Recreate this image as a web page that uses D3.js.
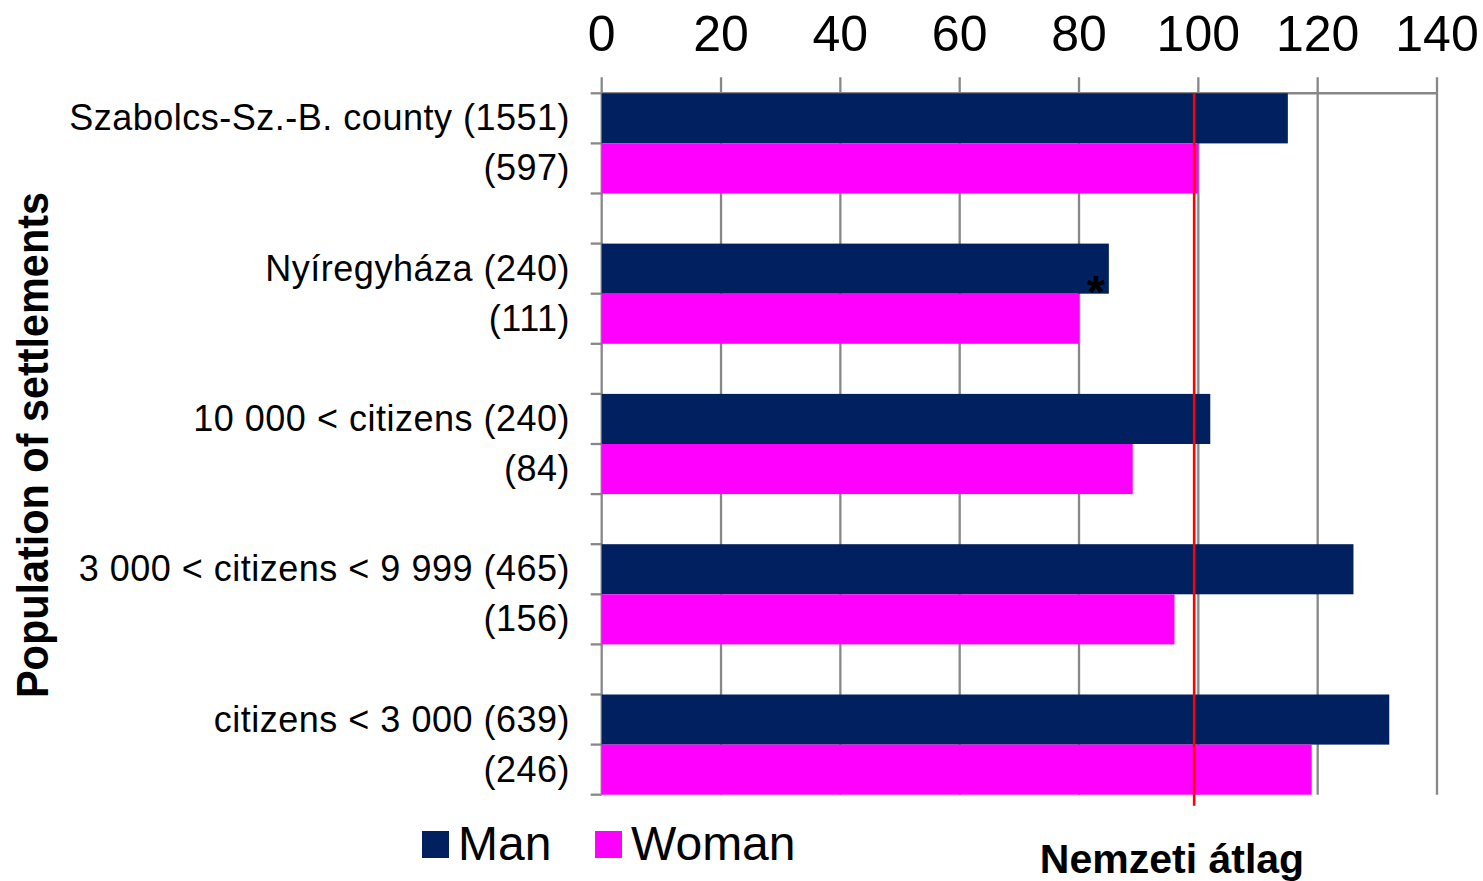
<!DOCTYPE html>
<html>
<head>
<meta charset="utf-8">
<script src="https://cdn.jsdelivr.net/npm/d3@7"></script>
<style>
  html, body { margin: 0; padding: 0; background: #ffffff; }
  svg { display: block; font-family: "Liberation Sans", Arial, Helvetica, sans-serif; }
</style>
</head>
<body>
<svg id="chart" width="1483" height="881"></svg>
<script>
// ---- data ----
const groups = ["Szabolcs-Sz.-B. county", "Nyíregyháza", "10 000 < citizens", "3 000 < citizens < 9 999", "citizens < 3 000"];
const manCounts = [1551, 240, 240, 465, 639];
const womanCounts = [597, 111, 84, 156, 246];
const manValues = [115, 85, 102, 126, 132];
const womanValues = [100, 80, 89, 96, 119];
const seriesNames = ["Man", "Woman"];
const seriesColors = ["#002060", "#FF00FF"];
const xTicks = [0, 20, 40, 60, 80, 100, 120, 140];
const nationalAverage = 99.3;
const nationalLabel = "Nemzeti átlag";
const yTitle = "Population of settlements";
const markedGroup = 1; // asterisk on Nyíregyháza (Man)

(function () {
  // ---- build rows: man, woman, gap for each group ----
  const rows = [];
  groups.forEach((g, i) => {
    rows.push({ key: "m" + i, label: g + " (" + manCounts[i] + ")", value: manValues[i], series: 0, group: i });
    rows.push({ key: "w" + i, label: "(" + womanCounts[i] + ")", value: womanValues[i], series: 1, group: i });
    if (i < groups.length - 1) rows.push({ key: "g" + i, label: "", value: null, series: null, group: i });
  });

  const svg = d3.select("#chart");
  const pLeft = 601.7, pRight = 1437, pTop = 93.3, pBottom = 794.7;

  const x = d3.scaleLinear().domain([0, 140]).range([pLeft, pRight]);
  const y = d3.scaleBand().domain(rows.map(r => r.key)).range([pTop, pBottom]).padding(0);

  const gray = "#878787";

  // gridlines + top ticks
  svg.append("g").selectAll("line")
    .data(xTicks)
    .join("line")
    .attr("x1", d => x(d)).attr("x2", d => x(d))
    .attr("y1", pTop - 16).attr("y2", pBottom)
    .attr("stroke", gray).attr("stroke-width", 2.3);

  // top axis line
  svg.append("line")
    .attr("x1", x(0)).attr("x2", x(140))
    .attr("y1", pTop).attr("y2", pTop)
    .attr("stroke", gray).attr("stroke-width", 2.5);

  // left ticks at slot boundaries
  const boundaries = rows.map(r => y(r.key)).concat([y(rows[rows.length - 1].key) + y.bandwidth()]);
  svg.append("g").selectAll("line")
    .data(boundaries)
    .join("line")
    .attr("x1", pLeft - 11).attr("x2", pLeft)
    .attr("y1", d => d).attr("y2", d => d)
    .attr("stroke", gray).attr("stroke-width", 2.3);

  // tick labels
  svg.append("g").selectAll("text")
    .data(xTicks)
    .join("text")
    .attr("x", d => x(d))
    .attr("y", 50.5)
    .attr("text-anchor", "middle")
    .attr("font-size", 50)
    .attr("fill", "#000")
    .text(d => d);

  // bars
  const barRows = rows.filter(r => r.value !== null);
  svg.append("g").selectAll("rect")
    .data(barRows)
    .join("rect")
    .attr("x", x(0))
    .attr("y", d => y(d.key))
    .attr("width", d => x(d.value) - x(0))
    .attr("height", y.bandwidth())
    .attr("fill", d => seriesColors[d.series]);

  // category labels
  svg.append("g").selectAll("text")
    .data(barRows)
    .join("text")
    .attr("x", 570)
    .attr("y", d => y(d.key) + y.bandwidth() / 2 + 12)
    .attr("text-anchor", "end")
    .attr("font-size", 36)
    .attr("letter-spacing", 0.5)
    .attr("fill", "#000")
    .text(d => d.label);

  // asterisk
  const mk = rows.find(r => r.key === "m" + markedGroup);
  svg.append("text")
    .attr("x", x(mk.value) - 13)
    .attr("y", y(mk.key) + y.bandwidth() + 14)
    .attr("text-anchor", "middle")
    .attr("font-size", 46)
    .attr("font-weight", "bold")
    .attr("fill", "#000")
    .text("*");

  // national average line
  svg.append("line")
    .attr("x1", x(nationalAverage)).attr("x2", x(nationalAverage))
    .attr("y1", pTop).attr("y2", pBottom + 11)
    .attr("stroke", "#FF0000").attr("stroke-width", 2.6);

  svg.append("text")
    .attr("x", 1172)
    .attr("y", 873)
    .attr("text-anchor", "middle")
    .attr("font-size", 41)
    .attr("font-weight", "bold")
    .attr("fill", "#000")
    .text(nationalLabel);

  // y title
  svg.append("text")
    .attr("transform", "translate(48,445) rotate(-90)")
    .attr("text-anchor", "middle")
    .attr("font-size", 44)
    .attr("font-weight", "bold")
    .attr("textLength", 506)
    .attr("lengthAdjust", "spacingAndGlyphs")
    .attr("fill", "#000")
    .text(yTitle);

  // legend
  const legendX = [422, 595];
  const legend = svg.append("g").selectAll("g")
    .data(seriesNames)
    .join("g");
  legend.append("rect")
    .attr("x", (d, i) => legendX[i]).attr("y", 831)
    .attr("width", 27).attr("height", 27)
    .attr("fill", (d, i) => seriesColors[i]);
  legend.append("text")
    .attr("x", (d, i) => legendX[i] + 36)
    .attr("y", 860)
    .attr("font-size", 48)
    .attr("fill", "#000")
    .text(d => d);
})();
</script>
</body>
</html>
